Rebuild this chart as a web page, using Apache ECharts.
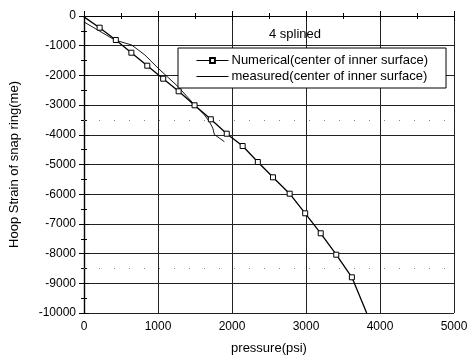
<!DOCTYPE html>
<html>
<head>
<meta charset="utf-8">
<script src="https://cdn.jsdelivr.net/npm/echarts@6/dist/echarts.min.js"></script>
<style>
  html, body { margin: 0; padding: 0; background: #fff; }
  #chart { width: 474px; height: 361px; }
</style>
</head>
<body>
<div id="chart"></div>
<script>
// pressure (psi) vs hoop strain
const numericalPressure = [0, 211, 430, 640, 855, 1070, 1279, 1494, 1714, 1929, 2144, 2349, 2554, 2779, 2989, 3199, 3409, 3620, 3820]
const numericalStrain = [-30, -394, -808, -1236, -1673, -2111, -2535, -3007, -3478, -3963, -4377, -4916, -5431, -5983, -6643, -7316, -8037, -8798, -10000]
// last point is only where the line hits the frame, no marker there
const numericalMarked = numericalPressure.map((_, i) => i > 0 && i < numericalPressure.length - 1)

const measuredPressure = [0, 416, 644, 823, 1003, 1271, 1517, 1628, 1695, 1741, 1762, 1787, 1897]
const measuredStrain = [-202, -808, -976, -1313, -1761, -2380, -3054, -3333, -3559, -3781, -3990, -3950, -4232]

const xTicks = [0, 1000, 2000, 3000, 4000, 5000]
const yTicks = [0, -1000, -2000, -3000, -4000, -5000, -6000, -7000, -8000, -9000, -10000]
const dottedLevels = [-3500, -8500]

const FONT = 'Liberation Sans, Arial, sans-serif'

const chart = echarts.init(document.getElementById('chart'), null, { renderer: 'canvas' })

const frameAxis = {
  axisLine: { show: true, lineStyle: { color: '#000', width: 1.2 } },
  axisTick: { show: true, inside: true, length: 5, lineStyle: { color: '#000' } },
  minorTick: { show: true, splitNumber: 2, length: 3, lineStyle: { color: '#000' } }
}

const option = {
  backgroundColor: '#fff',
  animation: false,
  textStyle: { fontFamily: FONT },
  title: {
    text: '4 splined',
    left: 264,
    top: 23,
    textStyle: { fontFamily: FONT, fontSize: 13, fontWeight: 'normal', color: '#000' }
  },
  legend: {
    orient: 'vertical',
    left: 178,
    top: 48,
    padding: [6, 18, 5, 18],
    itemGap: 3,
    itemWidth: 32,
    itemHeight: 6,
    backgroundColor: '#fff',
    borderColor: '#000',
    borderWidth: 1,
    borderRadius: 0,
    textStyle: { fontFamily: FONT, fontSize: 13, color: '#000', padding: [0, 0, 0, -2] },
    data: [
      {
        name: 'Numerical(center of inner surface)',
        lineStyle: { width: 1 }
      },
      {
        name: 'measured(center of inner surface)',
        itemStyle: { opacity: 0 },
        lineStyle: { width: 1 }
      }
    ]
  },
  grid: { left: 82, right: 20, top: 16, bottom: 48 },
  xAxis: [
    Object.assign({
      type: 'value',
      min: 0, max: 5000, interval: 1000,
      name: 'pressure(psi)',
      nameLocation: 'middle',
      nameGap: 29,
      nameTextStyle: { fontFamily: FONT, fontSize: 13, color: '#000' },
      axisLabel: {
        margin: 8, color: '#000', fontSize: 12, fontFamily: FONT,
        formatter: v => (xTicks.includes(v) ? String(v) : '')
      },
      splitLine: { show: true, lineStyle: { color: '#222', width: 1 } }
    }, frameAxis),
    Object.assign({
      type: 'value', position: 'top',
      min: 0, max: 5000, interval: 1000,
      axisLabel: { show: false },
      splitLine: { show: false }
    }, frameAxis)
  ],
  yAxis: [
    Object.assign({
      type: 'value',
      min: -10000, max: 0, interval: 1000,
      name: 'Hoop Strain of snap ring(me)',
      nameLocation: 'middle',
      nameGap: 63,
      nameTextStyle: { fontFamily: FONT, fontSize: 13, color: '#000' },
      axisLabel: {
        margin: 8, color: '#000', fontSize: 12, fontFamily: FONT,
        formatter: v => (yTicks.includes(v) ? String(v) : '')
      },
      splitLine: { show: true, lineStyle: { color: '#222', width: 1 } }
    }, frameAxis),
    Object.assign({
      type: 'value', position: 'right',
      min: -10000, max: 0, interval: 1000,
      axisLabel: { show: false },
      splitLine: { show: false }
    }, frameAxis)
  ],
  series: [
    {
      name: 'Numerical(center of inner surface)',
      type: 'line',
      data: numericalPressure.map((p, i) => ({
        value: [p, numericalStrain[i]],
        symbol: numericalMarked[i] ? 'rect' : 'none'
      })),
      symbol: 'rect',
      symbolSize: 5,
      showAllSymbol: true,
      lineStyle: { color: '#000', width: 1.3 },
      itemStyle: { color: '#fff', borderColor: '#000', borderWidth: 1 },
      markLine: {
        silent: true,
        symbol: 'none',
        label: { show: false },
        lineStyle: { color: '#888', type: [1, 14], width: 1 },
        data: dottedLevels.map(v => ({ yAxis: v }))
      },
      z: 3
    },
    {
      name: 'measured(center of inner surface)',
      type: 'line',
      data: measuredPressure.map((p, i) => [p, measuredStrain[i]]),
      symbol: 'none',
      lineStyle: { color: '#000', width: 0.9 },
      itemStyle: { color: '#000' },
      z: 2
    }
  ]
}

chart.setOption(option)
</script>
</body>
</html>
